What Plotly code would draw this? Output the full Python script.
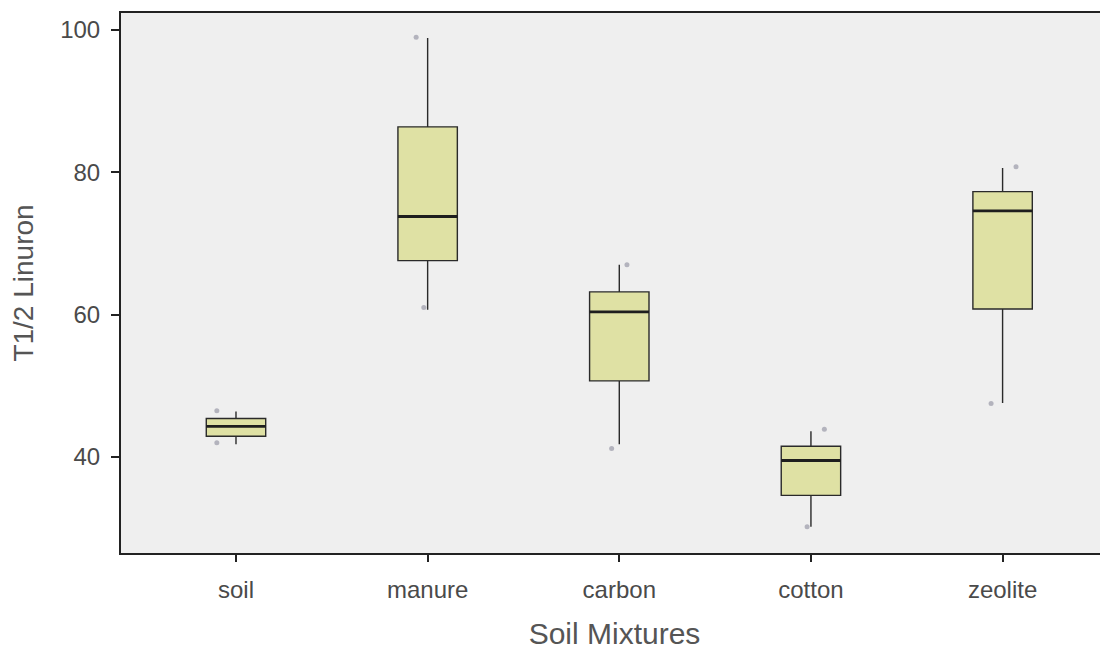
import plotly.graph_objects as go

categories = ["soil", "manure", "carbon", "cotton", "zeolite"]
q1 = [42.9, 67.6, 50.7, 34.6, 60.8]
median = [44.3, 73.8, 60.4, 39.5, 74.6]
q3 = [45.4, 86.4, 63.2, 41.5, 77.3]
lower = [41.8, 60.7, 41.8, 30.2, 47.6]
upper = [46.4, 98.9, 67.0, 43.6, 80.6]
pt_low = [42.0, 61.0, 41.2, 30.2, 47.5]
pt_high = [46.5, 99.0, 67.0, 43.9, 80.8]
jit_low = [-0.1, -0.02, -0.04, -0.02, -0.06]
jit_high = [-0.1, -0.06, 0.04, 0.07, 0.07]

xs = list(range(len(categories)))
bw = 0.31

fig = go.Figure()
fig.add_trace(go.Box(
    x=xs, q1=q1, median=median, q3=q3, lowerfence=lower, upperfence=upper,
    width=bw, whiskerwidth=0, fillcolor="#dfe1a4",
    line=dict(color="#2a2a2a", width=1.4), boxpoints=False, showlegend=False,
))
# thicker median bars
mx, my = [], []
for i, m in enumerate(median):
    mx += [i - bw / 2, i + bw / 2, None]
    my += [m, m, None]
fig.add_trace(go.Scatter(x=mx, y=my, mode="lines", line=dict(color="#1e1e1e", width=2.8),
                         showlegend=False, hoverinfo="skip"))
# data points at extremes
px = [i + j for i, j in zip(xs, jit_low)] + [i + j for i, j in zip(xs, jit_high)]
py = pt_low + pt_high
fig.add_trace(go.Scatter(x=px, y=py, mode="markers",
                         marker=dict(color="#9a9aa8", size=5, opacity=0.7),
                         showlegend=False))

fig.update_layout(
    width=1100, height=642,
    margin=dict(l=113, r=0, t=5, b=97),
    paper_bgcolor="white", plot_bgcolor="#efefef",
    font=dict(family="Liberation Sans, Arial", color="#555555"),
    xaxis=dict(
        range=[-0.6, 4.55], tickvals=xs, ticktext=categories,
        showgrid=False, zeroline=False, showline=True, linecolor="#222222", linewidth=2,
        mirror=True, ticks="outside", ticklen=7, tickwidth=2, tickcolor="#222222",
        ticklabelstandoff=7,
        tickfont=dict(size=24, color="#4a4a4a"),
        title=dict(text="Soil Mixtures", font=dict(size=30, color="#555555"), standoff=24),
    ),
    yaxis=dict(
        range=[26.5, 102.4], tickvals=[40, 60, 80, 100],
        showgrid=False, zeroline=False, showline=True, linecolor="#222222", linewidth=2,
        ticks="outside", ticklen=8, tickwidth=2, tickcolor="#222222",
        ticklabelstandoff=6,
        tickfont=dict(size=24, color="#4a4a4a"),
        title=dict(text="T1/2 Linuron", font=dict(size=28, color="#555555"), standoff=18),
    ),
)
fig.write_html("out.html")
